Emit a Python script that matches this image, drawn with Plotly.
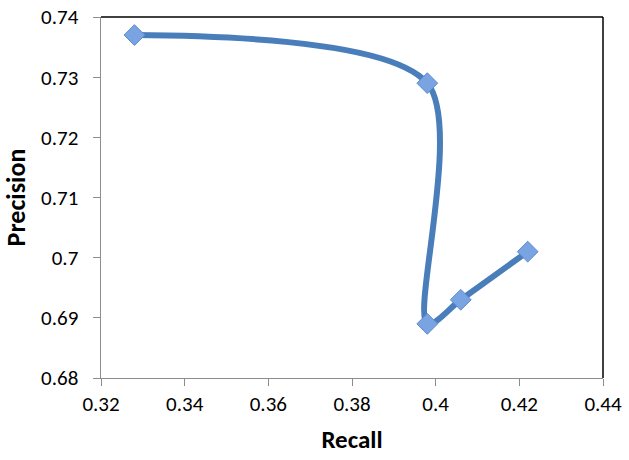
import plotly.graph_objects as go

recall = [0.328, 0.398, 0.398, 0.406, 0.422]
precision = [0.737, 0.729, 0.689, 0.693, 0.701]
x_ticks = [0.32, 0.34, 0.36, 0.38, 0.40, 0.42, 0.44]
x_labels = ["0.32", "0.34", "0.36", "0.38", "0.4", "0.42", "0.44"]
y_ticks = [0.68, 0.69, 0.70, 0.71, 0.72, 0.73, 0.74]
y_labels = ["0.68", "0.69", "0.7", "0.71", "0.72", "0.73", "0.74"]

font_family = "Carlito, Lato, 'Open Sans', sans-serif"
pad = "\u2002"  # spacing between y tick labels and axis

fig = go.Figure()
fig.add_trace(go.Scatter(
    x=recall, y=precision,
    mode="lines+markers",
    line=dict(color="#4A7EBB", width=6, shape="spline", smoothing=0.85),
    marker=dict(symbol="diamond", size=16, color="#7AA3E2",
                line=dict(color="#5C8BD2", width=1)),
    showlegend=False,
    hoverinfo="skip",
))

axis_common = dict(
    showgrid=False, zeroline=False, automargin=False,
    showline=True, linecolor="#8C8C8C", linewidth=1,
    ticks="outside", tickcolor="#8C8C8C", ticklen=7,
    tickfont=dict(family=font_family, size=21, color="#000000"),
    mirror=False,
)

fig.update_layout(
    width=629, height=460,
    margin=dict(l=101, r=26, t=17, b=82),
    paper_bgcolor="white", plot_bgcolor="white",
    xaxis=dict(range=[0.32, 0.44], tickvals=x_ticks, ticktext=x_labels,
               title=dict(text="<b>Recall</b>", font=dict(family=font_family, size=25, color="#000"), standoff=14),
               **axis_common),
    yaxis=dict(range=[0.68, 0.74], tickvals=y_ticks,
               ticktext=[lab + pad for lab in y_labels],
               title=dict(text="<b>Precision</b>", font=dict(family=font_family, size=26, color="#000"), standoff=10),
               **axis_common),
    shapes=[
        dict(type="line", xref="paper", yref="paper", x0=0, x1=1, y0=1, y1=1,
             line=dict(color="#000000", width=1.5)),
        dict(type="line", xref="paper", yref="paper", x0=1, x1=1, y0=0, y1=1,
             line=dict(color="#000000", width=1.5)),
    ],
)

fig.write_html("out.html", config={"displayModeBar": False},
               post_script="document.body.style.margin='0';")
